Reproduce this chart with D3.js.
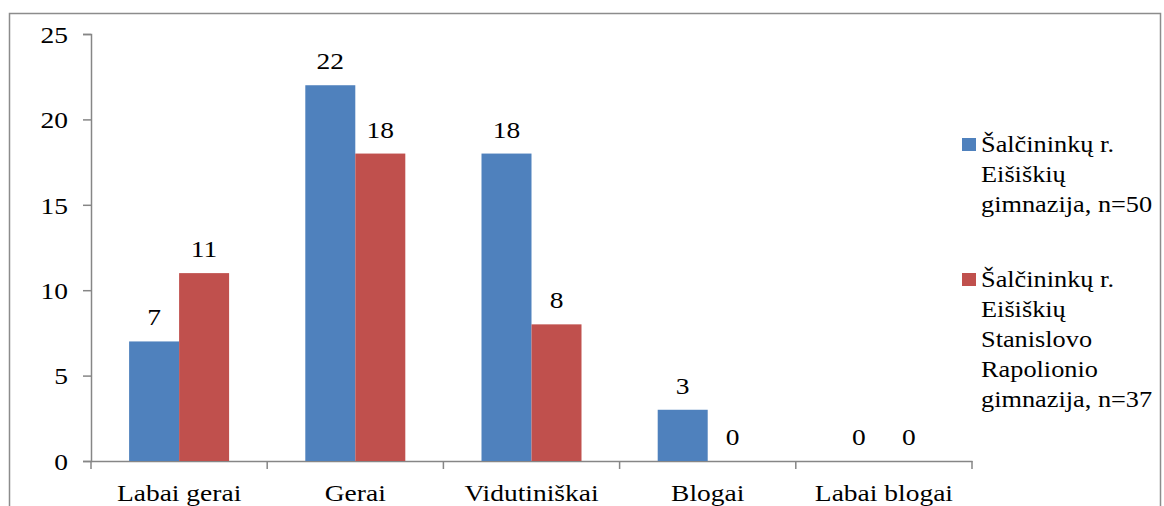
<!DOCTYPE html>
<meta charset="utf-8" />
<style>
  body {
    background: #fff;
    margin: 0px;
  }
</style>
<body>
<script src="https://d3js.org/d3.v7.min.js"></script>
<script>
  var width = 1164,
    height = 506;

  var categories = ["Labai gerai", "Gerai", "Vidutiniškai", "Blogai", "Labai blogai"];
  var eisiskiu = [7, 22, 18, 3, 0];
  var rapolionio = [11, 18, 8, 0, 0];
  var seriesNames = [
    ["Šalčininkų r.", "Eišiškių", "gimnazija, n=50"],
    ["Šalčininkų r.", "Eišiškių", "Stanislovo", "Rapolionio", "gimnazija, n=37"],
  ];
  var colors = ["#4F81BD", "#C0504D"];
  var yTicks = [0, 5, 10, 15, 20, 25];

  var serif = "'Liberation Serif', 'Times New Roman', Tinos, serif";
  var fs = "23.5px";
  var sx = 1.17; // the source picture is a little wider than tall

  var svg = d3
    .select("body")
    .append("svg")
    .attr("width", width)
    .attr("height", height)
    .style("font-family", serif);

  // outer frame (bottom edge runs off the picture)
  svg
    .append("path")
    .attr("d", "M9.5,520V13.5H1160.5V520")
    .attr("fill", "none")
    .attr("stroke", "#8c8c8c")
    .attr("stroke-width", 1.5);

  var x = d3.scaleBand().domain(categories).range([91, 972]);
  var y = d3.scaleLinear().domain([0, 25]).range([461, 34]);

  var gy = svg
    .append("g")
    .attr("transform", "translate(91,0)")
    .call(d3.axisLeft(y).tickValues(yTicks).tickSize(8).tickPadding(0));

  var gx = svg
    .append("g")
    .attr("transform", "translate(0,461)")
    .call(d3.axisBottom(x).tickSize(0).tickPadding(23));

  // category separator ticks
  gx.selectAll(".sep")
    .data(d3.range(categories.length + 1))
    .enter()
    .append("line")
    .attr("class", "sep")
    .attr("x1", (i) => 91 + i * x.step())
    .attr("x2", (i) => 91 + i * x.step())
    .attr("y1", 0)
    .attr("y2", 8);

  [gx, gy].forEach(function (g) {
    g.attr("font-family", null).attr("font-size", null);
    g.selectAll("path, line").attr("stroke", "#868686").attr("stroke-width", 1.5);
    g.selectAll("text")
      .attr("fill", "#000")
      .style("font-family", serif)
      .style("font-size", fs);
  });
  gx.selectAll(".tick text").attr("transform", "scale(" + sx + ",1)");
  gy.selectAll(".tick text")
    .attr("dy", "0.35em")
    .attr("x", 0)
    .attr("transform", "translate(-23,0) scale(" + sx + ",1)");

  var barW = 50;
  var series = [eisiskiu, rapolionio];

  series.forEach(function (vals, s) {
    var g = svg.append("g");
    g.selectAll("rect")
      .data(vals)
      .enter()
      .append("rect")
      .attr("x", (d, i) => x(categories[i]) + x.bandwidth() / 2 - barW + s * barW)
      .attr("y", (d) => y(d))
      .attr("width", barW)
      .attr("height", (d) => y(0) - y(d))
      .attr("fill", colors[s]);

    g.selectAll("text")
      .data(vals)
      .enter()
      .append("text")
      .attr(
        "transform",
        (d, i) =>
          "translate(" +
          (x(categories[i]) + x.bandwidth() / 2 - barW / 2 + s * barW) +
          "," +
          (y(d) - 16) +
          ") scale(" + sx + ",1)"
      )
      .attr("text-anchor", "middle")
      .style("font-family", serif)
      .style("font-size", fs)
      .text((d) => d);
  });

  // legend
  var legendY = [138, 273];
  seriesNames.forEach(function (lines, s) {
    var lg = svg.append("g").attr("transform", "translate(962," + legendY[s] + ")");
    lg.append("rect")
      .attr("width", 14)
      .attr("height", 13)
      .attr("fill", colors[s]);
    lg.selectAll("text")
      .data(lines)
      .enter()
      .append("text")
      .attr("transform", (d, i) => "translate(19," + (14 + i * 30) + ") scale(1.12,1)")
      .style("font-family", serif)
      .style("font-size", fs)
      .text((d) => d);
  });
</script>
</body>
